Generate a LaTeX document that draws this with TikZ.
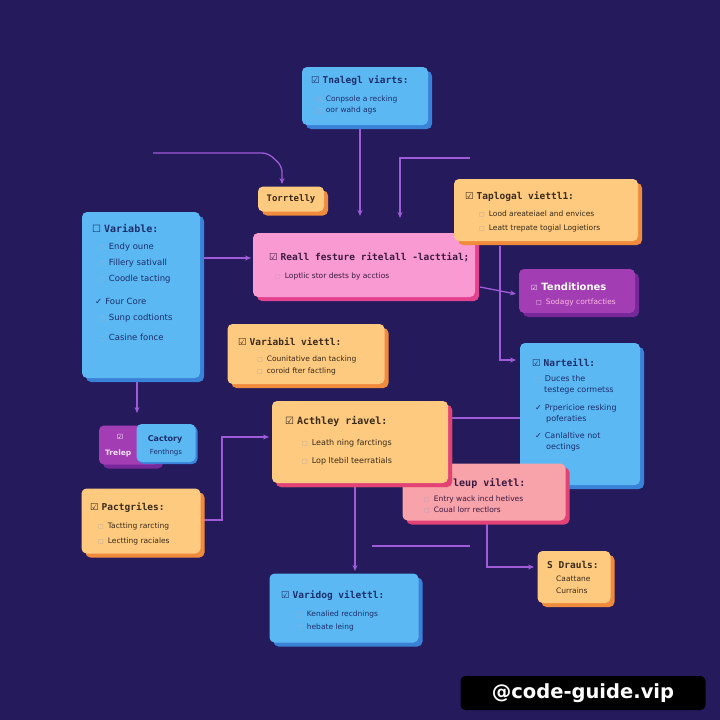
\documentclass[tikz,border=0pt]{standalone}
\usepackage{fontspec}
\setmainfont{DejaVu Sans}
\newfontfamily\monof{DejaVu Sans Mono}
\newfontfamily\symf{DejaVu Sans}
\usetikzlibrary{shadows,arrows.meta}
\definecolor{bg}{HTML}{241A5C}
\definecolor{cblue}{HTML}{5CB8F2}
\definecolor{cblueD}{HTML}{3A82D8}
\definecolor{corng}{HTML}{FDCA80}
\definecolor{corngD}{HTML}{F08A3C}
\definecolor{cpink}{HTML}{F99BD2}
\definecolor{cpinkD}{HTML}{E2428E}
\definecolor{cpurp}{HTML}{A23DB4}
\definecolor{cpurpD}{HTML}{76289A}
\definecolor{csalm}{HTML}{F8A2AA}
\definecolor{csalmD}{HTML}{E24276}
\definecolor{cline}{HTML}{A05CD8}
\definecolor{tblue}{HTML}{1B2E6C}
\definecolor{tornge}{HTML}{3A2A18}
\definecolor{tpink}{HTML}{3A1A40}
\newcommand\sqb{\textcolor{.!40!white}{\symf\fontsize{6}{6}\selectfont □}\hspace{4pt}}
\newcommand\ckb{{\symf ☑}\hspace{3pt}}
\newcommand\tkb{{\symf ✓}\hspace{3pt}}
\tikzset{
  x=1pt, y=-1pt,
  box/.style={rounded corners=5pt, inner sep=0pt},
  sh/.style={drop shadow={shadow xshift=4pt, shadow yshift=-4pt, opacity=1, fill=#1}},
  bluebox/.style={box, fill=cblue, sh=cblueD},
  orbox/.style={box, fill=corng, sh=corngD},
  pkbox/.style={box, fill=cpink, sh=cpinkD},
  pubox/.style={box, fill=cpurp, sh=cpurpD},
  sabox/.style={box, fill=csalm, sh=csalmD},
  ttl/.style={anchor=west, inner sep=0pt, font=\monof\bfseries\fontsize{9.5}{11}\selectfont},
  itm/.style={anchor=west, inner sep=0pt, font=\fontsize{7.5}{9}\selectfont},
  conn/.style={draw=cline, line width=1.3pt},
  arr/.style={conn, -{Stealth[length=6pt,width=5pt]}},
}
\begin{document}
\begin{tikzpicture}
\fill[bg] (0,0) rectangle (720,720);
\useasboundingbox (0,0) rectangle (720,720);

% ---------- connectors (drawn first) ----------
\coordinate (c1) at (153,153);
\coordinate (c1b) at (282,184);
\coordinate (c2) at (360,126);
\coordinate (c2b) at (360,216);
\coordinate (c3) at (470,158);
\coordinate (c3b) at (400,218);
\coordinate (c5) at (480,287);
\coordinate (c5b) at (516,294);
\coordinate (c6) at (500,246);
\coordinate (c6b) at (516,360);
\coordinate (c7) at (137,379);
\coordinate (c7b) at (137,413);
\coordinate (c8) at (203,520);
\coordinate (c8b) at (269,437);
\coordinate (c9) at (355,485);
\coordinate (c9b) at (355,571);
\coordinate (c10) at (372,546);
\coordinate (c10b) at (470,546);
\coordinate (c11) at (487,522);
\coordinate (c11b) at (534,567);
\coordinate (c12) at (452,418);
\coordinate (c12b) at (520,418);
\draw[arr, rounded corners=6pt] (c1) -- (268,153) -- (282,166) -- (c1b);
\draw[arr] (c2) -- (c2b);
\draw[arr] (c3) -- (400,158) -- (c3b);
\draw[arr] (203,258) -- (251,258);
\draw[arr] (c5) -- (c5b);
\draw[arr] (c6) -- (500,360) -- (c6b);
\draw[arr] (c7) -- (c7b);
\draw[arr] (c8) -- (222,520) -- (222,437) -- (c8b);
\draw[arr] (c9) -- (c9b);
\draw[conn] (c10) -- (c10b);
\draw[arr] (c11) -- (487,567) -- (c11b);
\draw[conn] (c12) -- (c12b);

% ---------- boxes ----------
% top
\node[bluebox, minimum width=126, minimum height=58] (top) at (365,96) {};
\node[ttl, text=tblue] (topT) at (311,81) {\ckb Tnalegl viarts:};
\node[itm, text=tblue] (topA) at (316,99) {\sqb Conpsole a recking};
\node[itm, text=tblue] (topB) at (316,110) {\sqb oor wahd ags};

% Torrtelly
\node[orbox, minimum width=66, minimum height=25, font=\monof\bfseries\fontsize{9}{10}\selectfont, text=tornge] (tor) at (291,199) {Torrtelly};

% Variable (left)
\node[bluebox, minimum width=118, minimum height=166] (var) at (141,295) {};
\node[ttl, text=tblue, font=\monof\bfseries\fontsize{10}{12}\selectfont] (varT) at (92,229) {{\symf ☐}\hspace{3pt}Variable:};
\begin{scope}[every node/.style={itm, text=tblue, font=\fontsize{8.5}{10}\selectfont}]
\node (varA) at (99,247) {\sqb Endy oune};
\node (varB) at (99,263) {\sqb Fillery sativall};
\node (varC) at (99,279) {\sqb Coodle tacting};
\node (varD) at (95,301) {\tkb Four Core};
\node (varE) at (99,318) {\sqb Sunp codtionts};
\node (varF) at (99,338) {\sqb Casine fonce};
\end{scope}

% Pink main
\node[pkbox, minimum width=222, minimum height=64] (pink) at (364,265) {};
\node[ttl, text=tpink] (pinkT) at (269,257) {\ckb Reall festure ritelall -lacttial;};
\node[itm, text=tpink] (pinkA) at (275,276) {\sqb Loptlic stor dests by acctios};

% Taplogal
\node[orbox, minimum width=184, minimum height=62] (tap) at (546,210) {};
\node[ttl, text=tornge] (tapT) at (465,197) {\ckb Taplogal viettl1:};
\node[itm, text=tornge] (tapA) at (479,214) {\sqb Lood areateiael and envices};
\node[itm, text=tornge] (tapB) at (479,228) {\sqb Leatt trepate togial Logietiors};

% Tenditiones
\node[pubox, minimum width=116, minimum height=44] (ten) at (577,291) {};
\node[ttl, text=white, font=\fontsize{10}{12}\selectfont\bfseries] (tenT) at (531,287) {{\symf\fontsize{7}{7}\selectfont ☑}\hspace{4pt}Tenditiones};
\node[itm, text=cpink!70!white] (tenA) at (536,302) {\sqb Sodagy cortfacties};

% Narteill
\node[bluebox, minimum width=120, minimum height=142] (nar) at (580,414) {};
\node[ttl, text=tblue] (narT) at (532,363) {\ckb Narteill:};
\begin{scope}[every node/.style={itm, text=tblue, font=\fontsize{8}{11}\selectfont, align=left}]
\node (narA) at (535,385) {\sqb Duces the\\\hspace{9pt}testege cormetss};
\node (narB) at (535,414) {\tkb Prpericioe resking\\\hspace{11pt}poferaties};
\node (narC) at (535,442) {\tkb Canlaltive not\\\hspace{11pt}oectings};
\end{scope}

% Variabil viettl
\node[orbox, minimum width=157, minimum height=60] (vv) at (306,354) {};
\node[ttl, text=tornge] (vvT) at (238,342) {\ckb Variabil viettl:};
\node[itm, text=tornge] (vvA) at (257,359) {\sqb Counitative dan tacking};
\node[itm, text=tornge] (vvB) at (257,371) {\sqb coroid fter factling};

% leup (behind Acthley)
\node[sabox, minimum width=163, minimum height=57] (leup) at (484,492) {};
\node[ttl, text=tpink, font=\monof\bfseries\fontsize{10}{12}\selectfont] (leupT) at (453,483) {leup viletl:};
\node[itm, text=tpink] (leupA) at (424,499) {\sqb Entry wack incd hetives};
\node[itm, text=tpink] (leupB) at (424,510) {\sqb Coual lorr rectlors};

% Acthley
\node[orbox, minimum width=176, minimum height=82, drop shadow={shadow xshift=4pt, shadow yshift=-4pt, opacity=1, fill=csalmD}] (act) at (360,442) {};
\node[ttl, text=tornge, font=\monof\bfseries\fontsize{10}{12}\selectfont] (actT) at (285,421) {\ckb Acthley riavel:};
\node[itm, text=tornge, font=\fontsize{8}{10}\selectfont] (actA) at (302,443) {\sqb Leath ning farctings};
\node[itm, text=tornge, font=\fontsize{8}{10}\selectfont] (actB) at (302,461) {\sqb Lop ltebil teerratials};

% Trelep / Cactory
\node[pubox, minimum width=60, minimum height=39] (trel) at (129,445) {};
\node[anchor=center, inner sep=0pt, text=white, font=\symf\fontsize{7}{7}\selectfont] (trelI) at (120,437) {☑};
\node[anchor=west, inner sep=0pt, text=white!85!cpurp, font=\bfseries\fontsize{7.5}{9}\selectfont] (trelT) at (105,453) {Trelep};
\node[box, fill=cblue, minimum width=59, minimum height=38, drop shadow={shadow xshift=2pt, shadow yshift=-2pt, opacity=1, fill=cblueD}] (cac) at (166,443) {};
\node[inner sep=0pt, text=tblue, font=\bfseries\fontsize{8}{10}\selectfont] (cacT) at (165,439) {Cactory};
\node[inner sep=0pt, text=tblue, font=\fontsize{7}{9}\selectfont] (cacA) at (166,453) {Fenthngs};

% Pactgriles
\node[orbox, minimum width=119, minimum height=65] (pac) at (141,521) {};
\node[ttl, text=tornge] (pacT) at (90,508) {\ckb Pactgriles:};
\node[itm, text=tornge] (pacA) at (98,526) {\sqb Tactting rarcting};
\node[itm, text=tornge] (pacB) at (98,541) {\sqb Lectting raciales};

% Drauls
\node[orbox, minimum width=73, minimum height=52] (dra) at (574,577) {};
\node[ttl, text=tornge] (draT) at (547,565) {S Drauls:};
\node[itm, text=tornge] (draA) at (556,579) {Caattane};
\node[itm, text=tornge] (draB) at (556,591) {Currains};

% Varidog
\node[bluebox, minimum width=149, minimum height=69] (vd) at (344,608) {};
\node[ttl, text=tblue] (vdT) at (281,596) {\ckb Varidog vilettl:};
\node[itm, text=tblue] (vdA) at (297,614) {\sqb Kenalied recdnings};
\node[itm, text=tblue] (vdB) at (297,627) {\sqb hebate leing};

% watermark
\node[fill=black, rounded corners=5pt, minimum width=245, minimum height=34, inner sep=0pt, text=white, font=\bfseries\fontsize{19.5}{22}\selectfont] (wm) at (583,693) {@code-guide.vip};
\end{tikzpicture}
\end{document}
